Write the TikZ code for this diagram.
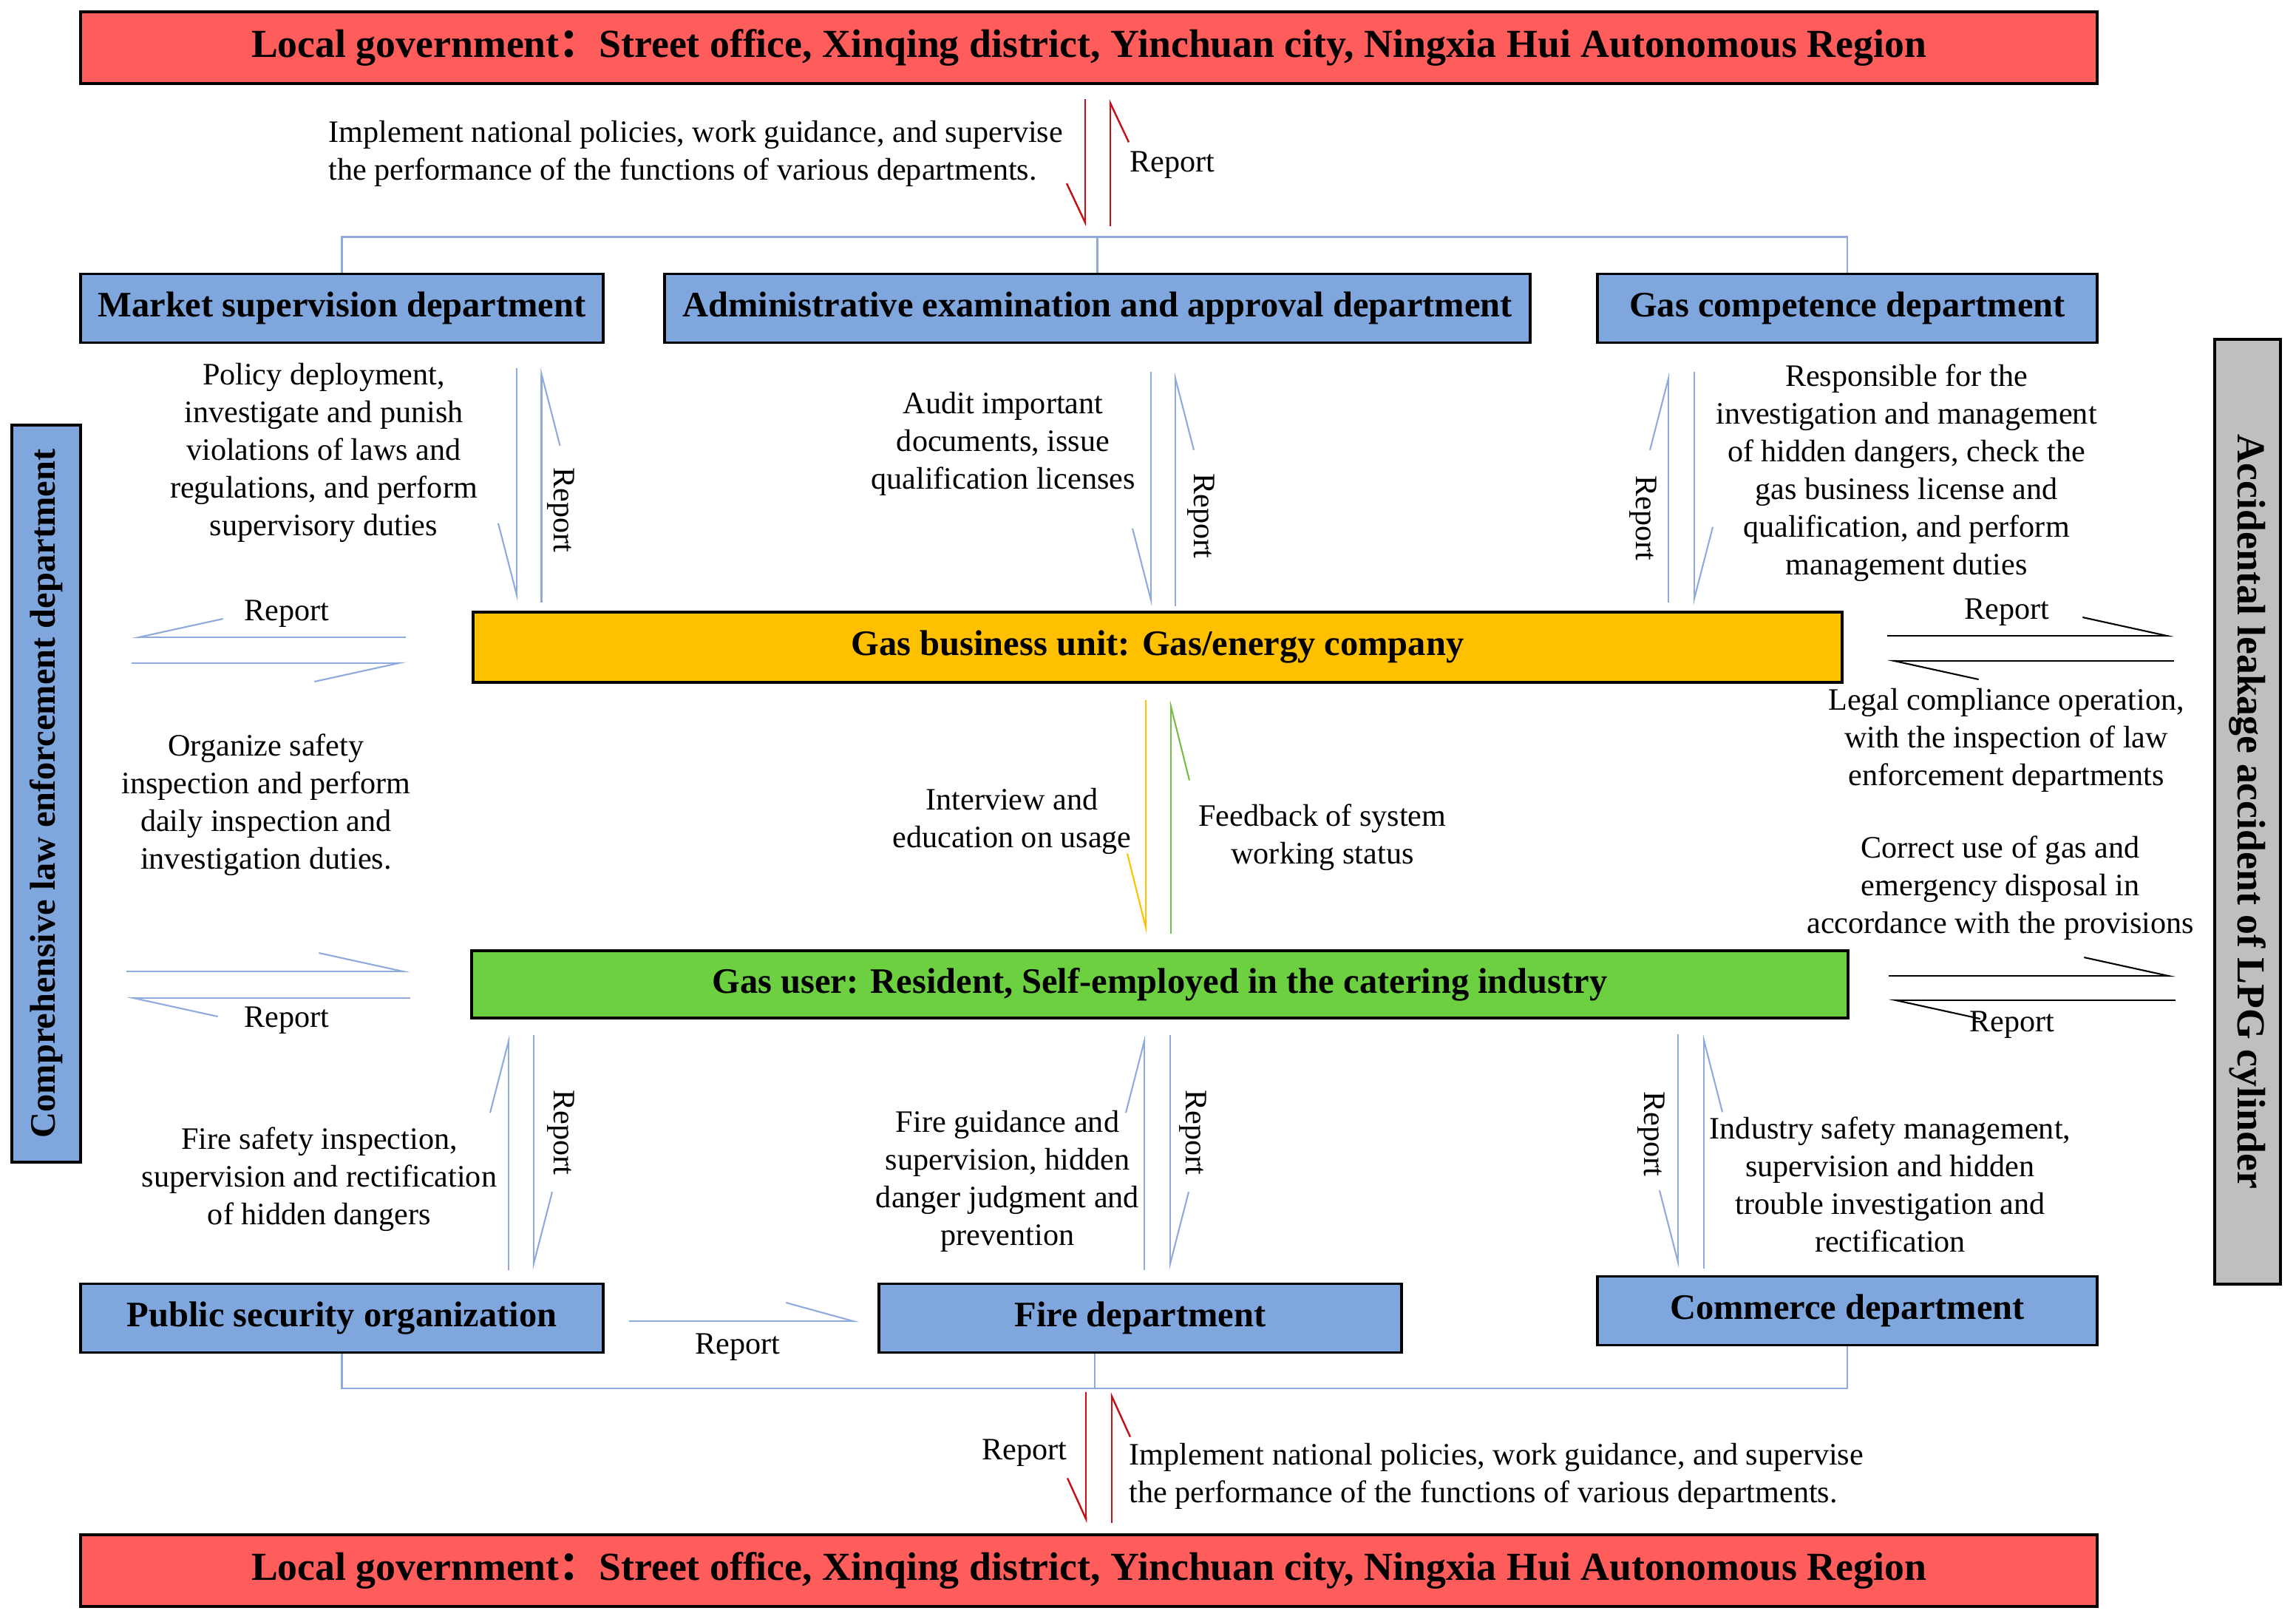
\documentclass[tikz,border=0pt]{standalone}
\usepackage{fontspec}
\setmainfont{Liberation Serif}
\newfontfamily\cjk{Noto Sans CJK SC}
\usepackage{tikz}
\usetikzlibrary{arrows.meta, positioning}
\usepackage{xcolor}
\definecolor{govred}{RGB}{255,92,92}
\definecolor{deptblue}{RGB}{127,167,222}
\definecolor{unityellow}{RGB}{255,192,0}
\definecolor{usergreen}{RGB}{108,208,64}
\definecolor{accgray}{RGB}{191,191,191}
\definecolor{linkblue}{RGB}{143,170,220}
\definecolor{darkred}{RGB}{200,16,24}
\definecolor{fbgreen}{RGB}{120,190,70}

\begin{document}
\begin{tikzpicture}[
  box/.style={rectangle, draw=black, line width=1.1pt, inner sep=0pt,
              align=center, font=\fontsize{13.8}{16}\selectfont\bfseries},
  dept/.style={box, fill=deptblue, minimum height=0.93cm},
  txt/.style={inner sep=0pt, align=center, font=\fontsize{12}{14.5}\selectfont},
  bus/.style={draw=linkblue, line width=0.8pt},
  link/.style={draw=linkblue, line width=0.6pt},
  hR/.style={-{Straight Barb[harpoon, swap, length=#1, width=5mm]}},
  hR/.default=9.7mm,
  hL/.style={-{Straight Barb[harpoon, length=#1, width=5mm]}},
  hL/.default=9.7mm
]
  \useasboundingbox (0,0) rectangle (31.06,-21.93);

  % government, top and bottom
  \node[box, fill=govred, minimum width=27.28cm, minimum height=0.97cm,
        font=\fontsize{15.3}{17}\selectfont\bfseries] (gtop) at (14.73,-0.645)
    {Local government{\cjk ：}Street office, Xinqing district, Yinchuan city, Ningxia Hui Autonomous Region};
  \node[box, fill=govred, minimum width=27.28cm, minimum height=0.97cm,
        font=\fontsize{15.3}{17}\selectfont\bfseries] (gbot) at (14.73,-21.245)
    {Local government{\cjk ：}Street office, Xinqing district, Yinchuan city, Ningxia Hui Autonomous Region};

  % departments
  \node[dept, minimum width=7.07cm] (mkt) at (4.625,-4.17) {Market supervision department};
  \node[dept, minimum width=11.71cm] (adm) at (14.845,-4.17) {Administrative examination and approval department};
  \node[dept, minimum width=6.76cm] (gcd) at (24.99,-4.17) {Gas competence department};
  \node[dept, minimum width=7.07cm] (psc) at (4.625,-17.83) {Public security organization};
  \node[dept, minimum width=7.07cm] (fire) at (15.425,-17.83) {Fire department};
  \node[dept, minimum width=6.76cm] (com) at (24.99,-17.73) {Commerce department};

  % gas unit and users
  \node[box, fill=unityellow, minimum width=18.52cm, minimum height=0.95cm] (yel) at (15.66,-8.755)
    {Gas business unit: Gas/energy company};
  \node[box, fill=usergreen, minimum width=18.62cm, minimum height=0.91cm] (grn) at (15.69,-13.315)
    {Gas user: Resident, Self-employed in the catering industry};

  % side bars (rotated: law.south is the right edge, acc.south the left edge)
  \node[box, fill=deptblue, rotate=90, minimum width=9.97cm, minimum height=0.93cm] (law) at (0.625,-10.735)
    {Comprehensive law enforcement department};
  \node[box, fill=accgray, rotate=-90, minimum width=12.78cm, minimum height=0.89cm,
        font=\fontsize{15.3}{17}\selectfont\bfseries] (acc) at (30.405,-10.98)
    {Accidental leakage accident of LPG cylinder};

  % buses
  \coordinate[above=4.8mm of adm.north] (topbus);
  \draw[bus] (mkt.north) |- (topbus) -| (gcd.north);
  \draw[bus] (adm.north) -- (topbus);
  \coordinate (botbus) at (14.81,-18.78);
  \draw[bus] (psc.south) |- (botbus) -| (com.south);
  \draw[bus] (botbus) -- (botbus |- fire.south);

  % government <-> departments
  \draw[darkred, line width=0.7pt, hR=5.3mm, shorten <=1.9mm, shorten >=1.4mm] (14.68,0 |- gtop.south) -- (14.68,0 |- topbus);
  \draw[darkred, line width=0.7pt, hR=5.3mm, shorten <=1.5mm, shorten >=1.9mm] (15.02,0 |- topbus) -- (15.02,0 |- gtop.south);
  \draw[darkred, line width=0.7pt, hR=5.5mm, shorten <=0.5mm, shorten >=1.4mm] (14.69,0 |- botbus) -- (14.69,0 |- gbot.north);
  \draw[darkred, line width=0.7pt, hR=5.5mm, shorten <=1.4mm, shorten >=0.5mm] (15.04,0 |- gbot.north) -- (15.04,0 |- botbus);

  % departments <-> gas unit
  \draw[link, hR, shorten <=3.3mm, shorten >=1.3mm] (6.99,0 |- mkt.south) -- (6.99,0 |- yel.north);
  \draw[link, hR, shorten <=1.1mm, shorten >=3.2mm] (7.325,0 |- yel.north) -- (7.325,0 |- mkt.south);
  \draw[link, hR, shorten <=3.8mm, shorten >=0.6mm] (15.57,0 |- adm.south) -- (15.57,0 |- yel.north);
  \draw[link, hR, shorten <=0.6mm, shorten >=3.8mm] (15.90,0 |- yel.north) -- (15.90,0 |- adm.south);
  \draw[link, hL, shorten <=1.1mm, shorten >=3.8mm] (22.57,0 |- yel.north) -- (22.57,0 |- gcd.south);
  \draw[link, hL, shorten <=3.8mm, shorten >=0.8mm] (22.92,0 |- gcd.south) -- (22.92,0 |- yel.north);

  % gas unit <-> gas users
  \draw[unityellow, line width=0.6pt, hR=10mm, shorten <=2.2mm, shorten >=2.1mm] (15.50,0 |- yel.south) -- (15.50,0 |- grn.north);
  \draw[fbgreen, line width=0.6pt, hR=10mm, shorten <=2.1mm, shorten >=2.2mm] (15.84,0 |- grn.north) -- (15.84,0 |- yel.south);

  % departments <-> gas users
  \draw[link, hL, shorten <=1.7mm, shorten >=2.1mm] (6.88,0 |- psc.north) -- (6.88,0 |- grn.south);
  \draw[link, hL, shorten <=2.1mm, shorten >=1.7mm] (7.22,0 |- grn.south) -- (7.22,0 |- psc.north);
  \draw[link, hL, shorten <=1.7mm, shorten >=2.1mm] (15.48,0 |- fire.north) -- (15.48,0 |- grn.south);
  \draw[link, hL, shorten <=2.1mm, shorten >=1.7mm] (15.83,0 |- grn.south) -- (15.83,0 |- fire.north);
  \draw[link, hR, shorten <=2.0mm, shorten >=0.9mm] (22.70,0 |- grn.south) -- (22.70,0 |- com.north);
  \draw[link, hR, shorten <=0.9mm, shorten >=2.0mm] (23.05,0 |- com.north) -- (23.05,0 |- grn.south);
  \draw[link, hL=9.1mm, shorten <=3.3mm, shorten >=2.5mm] (psc.east |- 0,-17.87) -- (fire.west |- 0,-17.87);

  % law enforcement and accident bars
  \draw[link, hR=11.4mm, shorten <=8.9mm, shorten >=6.7mm] (yel.west |- 0,-8.62) -- (law.south |- 0,-8.62);
  \draw[link, hR=11.4mm, shorten <=6.7mm, shorten >=8.9mm] (law.south |- 0,-8.97) -- (yel.west |- 0,-8.97);
  \draw[link, hL=11.4mm, shorten <=6.0mm, shorten >=8.1mm] (law.south |- 0,-13.14) -- (grn.west |- 0,-13.14);
  \draw[link, hL=11.4mm, shorten <=8.1mm, shorten >=6.0mm] (grn.west |- 0,-13.50) -- (law.south |- 0,-13.50);
  \draw[line width=0.6pt, hL=11.4mm, shorten <=5.9mm, shorten >=5.3mm] (yel.east |- 0,-8.60) -- (acc.south |- 0,-8.60);
  \draw[line width=0.6pt, hL=11.4mm, shorten <=5.3mm, shorten >=5.9mm] (acc.south |- 0,-8.94) -- (yel.east |- 0,-8.94);
  \draw[line width=0.6pt, hL=11.4mm, shorten <=5.3mm, shorten >=5.1mm] (grn.east |- 0,-13.20) -- (acc.south |- 0,-13.20);
  \draw[line width=0.6pt, hL=11.4mm, shorten <=5.1mm, shorten >=5.3mm] (acc.south |- 0,-13.53) -- (grn.east |- 0,-13.53);

  % report labels
  \node[txt] (rgtop) at (15.86,-2.23) {Report};
  \node[txt] (rgbot) at (13.86,-19.65) {Report};
  \node[txt, rotate=-90] (rmkt) at (7.59,-6.90) {Report};
  \node[txt, rotate=-90] (radm) at (16.25,-6.98) {Report};
  \node[txt, rotate=-90] (rgcd) at (22.23,-7.01) {Report};
  \node[txt, rotate=-90] (rpsc) at (7.59,-15.32) {Report};
  \node[txt, rotate=-90] (rfire) at (16.14,-15.32) {Report};
  \node[txt, rotate=-90] (rcom) at (22.34,-15.34) {Report};
  \node[txt] (rlawu) at (3.88,-8.30) {Report};
  \node[txt] (rlawl) at (3.88,-13.80) {Report};
  \node[txt] (raccu) at (27.15,-8.28) {Report};
  \node[txt] (raccl) at (27.22,-13.86) {Report};
  \node[txt] (rpf) at (9.98,-18.22) {Report};

  % duty texts
  \node[txt, anchor=west, align=left] (tgtop) at (4.44,-2.08)
    {Implement national policies, work guidance, and supervise\\the performance of the functions of various departments.};
  \node[txt, anchor=west, align=left] (tgbot) at (15.27,-19.97)
    {Implement national policies, work guidance, and supervise\\the performance of the functions of various departments.};
  \node[txt] (tmkt) at (4.38,-6.12)
    {Policy deployment,\\investigate and punish\\violations of laws and\\regulations, and perform\\supervisory duties};
  \node[txt] (tadm) at (13.57,-6.00)
    {Audit important\\documents, issue\\qualification licenses};
  \node[txt] (tgcd) at (25.79,-6.40)
    {Responsible for the\\investigation and management\\of hidden dangers, check the\\gas business license and\\qualification, and perform\\management duties};
  \node[txt] (tlaw) at (3.60,-10.89)
    {Organize safety\\inspection and perform\\daily inspection and\\investigation duties.};
  \node[txt] (tint) at (13.69,-11.11) {Interview and\\education on usage};
  \node[txt] (tfb) at (17.89,-11.33) {Feedback of system\\working status};
  \node[txt] (tlegal) at (27.14,-10.01)
    {Legal compliance operation,\\with the inspection of law\\enforcement departments};
  \node[txt] (tuse) at (27.06,-12.01)
    {Correct use of gas and\\emergency disposal in\\accordance with the provisions};
  \node[txt] (tpsc) at (4.32,-15.95)
    {Fire safety inspection,\\supervision and rectification\\of hidden dangers};
  \node[txt] (tfire) at (13.63,-15.98)
    {Fire guidance and\\supervision, hidden\\danger judgment and\\prevention};
  \node[txt] (tcom) at (25.57,-16.02)
    {Industry safety management,\\supervision and hidden\\trouble investigation and\\rectification};
\end{tikzpicture}
\end{document}
